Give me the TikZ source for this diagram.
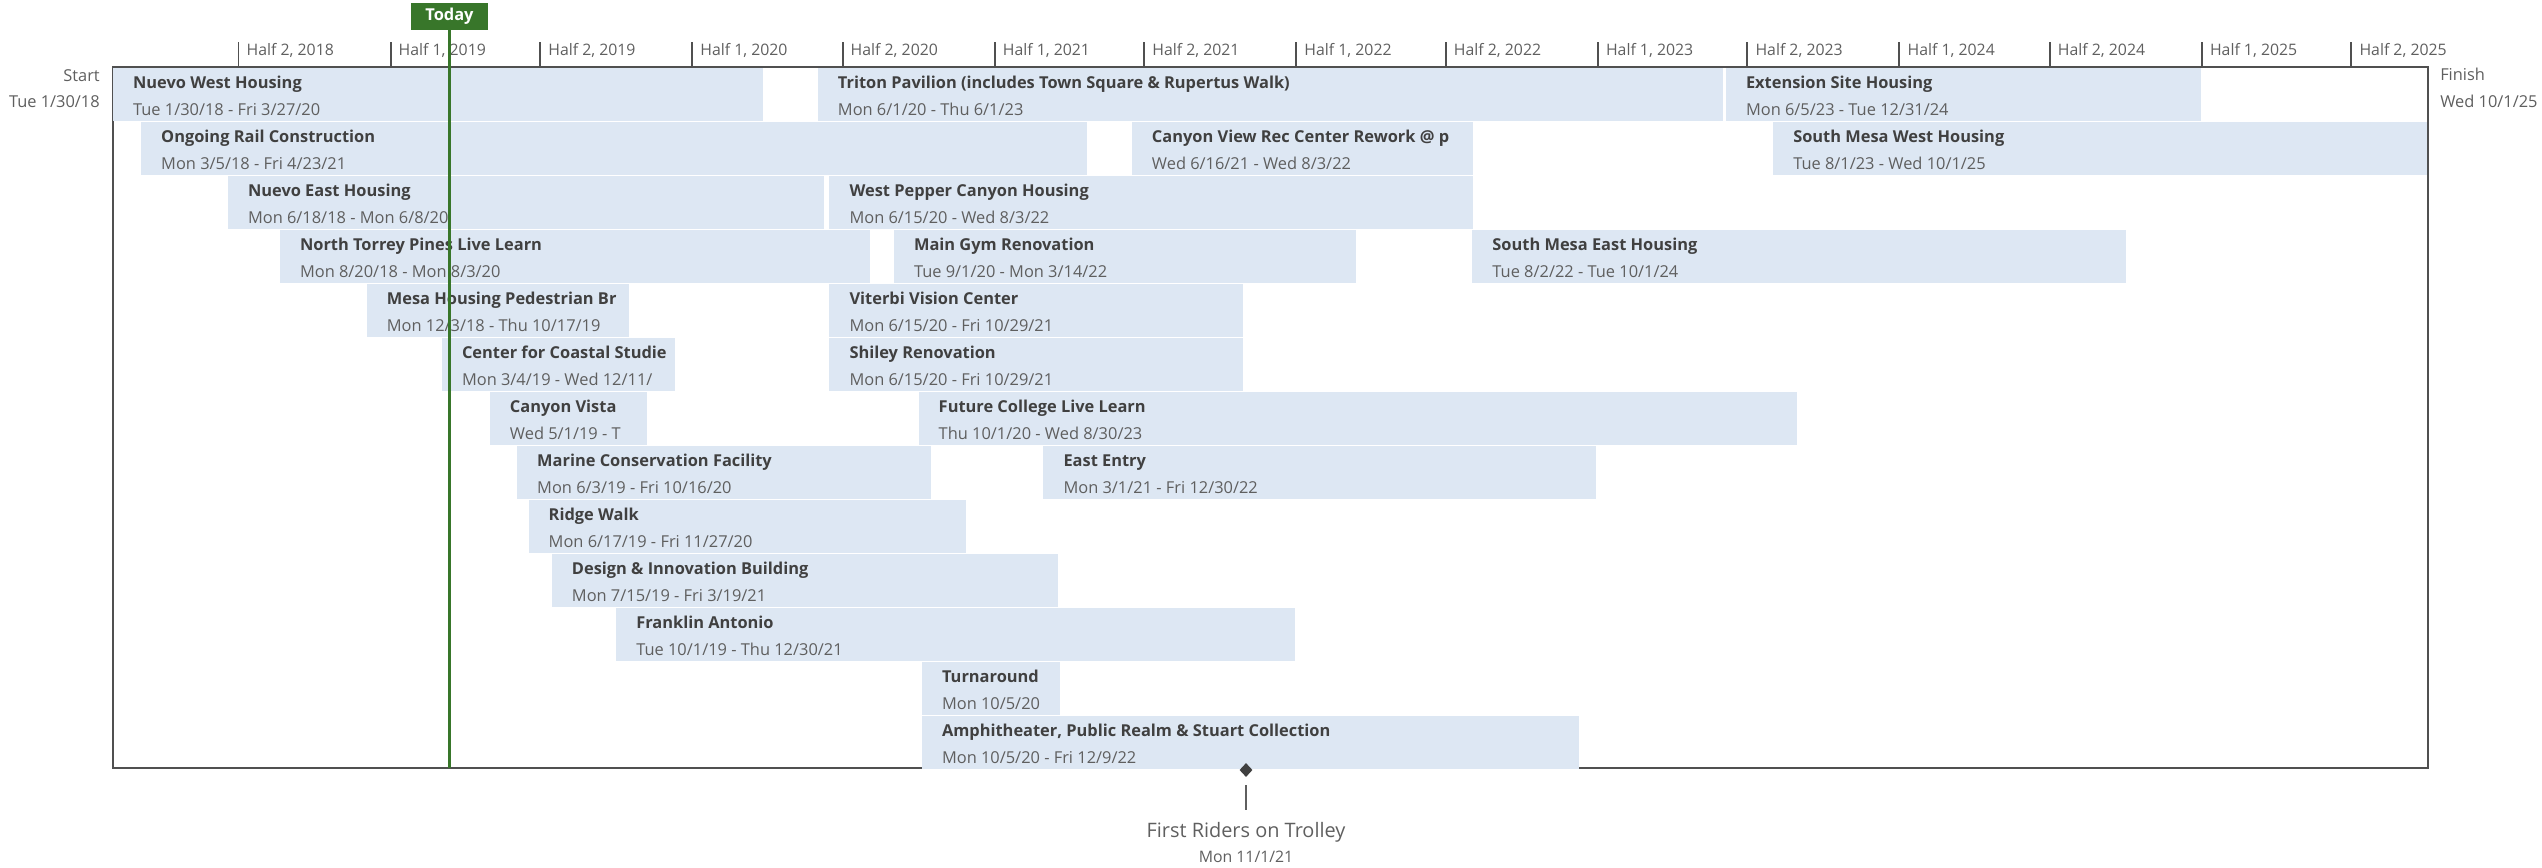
\documentclass[tikz,border=0pt]{standalone}
\usepackage{fontspec}
\setmainfont{Open Sans}
\usepackage{tikz}
\usetikzlibrary{shapes.geometric}

\definecolor{barblue}{RGB}{221,231,243}
\definecolor{framegray}{RGB}{80,80,80}
\definecolor{titlegray}{RGB}{64,64,64}
\definecolor{textgray}{RGB}{95,95,95}
\definecolor{todaygreen}{RGB}{56,118,42}

\begin{document}
\begin{tikzpicture}[x=0.03cm,y=-0.03cm,
                    barfill/.style={fill=barblue},
                    tasktitle/.style={anchor=base west,inner sep=0pt,text=titlegray,font=\fontsize{14}{16}\selectfont\bfseries},
                    taskdates/.style={anchor=base west,inner sep=0pt,text=textgray,font=\fontsize{14}{16}\selectfont},
                    halflabel/.style={anchor=base west,inner sep=0pt,text=textgray,font=\fontsize{13.5}{16}\selectfont},
                    tickmark/.style={draw=framegray,line width=1.7pt},
                    endlabel/.style={inner sep=0pt,text=textgray,font=\fontsize{14}{16}\selectfont},
                    todaybox/.style={fill=todaygreen,text=white,font=\fontsize{14}{16}\selectfont\bfseries,minimum width=2.3cm,minimum height=0.81cm,inner sep=0pt},
                    todayline/.style={draw=todaygreen,line width=2.6pt},
                    msdiamond/.style={diamond,fill=titlegray,inner sep=0pt,minimum width=0.39cm,minimum height=0.42cm},
                    msstem/.style={draw=textgray,line width=0.9pt}]
                    \useasboundingbox (0,0) rectangle (2542,868);

                    \draw[draw=framegray,line width=2.5pt] (113,67) rectangle (2428,768);

                    \foreach \x/\lbl [count=\i] in {238.5/{Half 2, 2018},390.5/{Half 1, 2019},540.1/{Half 2, 2019},692.1/{Half 1, 2020},
                                                   842.5/{Half 2, 2020},994.6/{Half 1, 2021},1144.1/{Half 2, 2021},1296.2/{Half 1, 2022},
                                                   1445.7/{Half 2, 2022},1597.8/{Half 1, 2023},1747.3/{Half 2, 2023},1899.4/{Half 1, 2024},
                                                   2049.7/{Half 2, 2024},2201.8/{Half 1, 2025},2351.3/{Half 2, 2025}}{
                        \draw[tickmark] (\x,42) -- (\x,67);
                        \node[halflabel] (h\i) at (\x+8,55) {\lbl};
                    }

                    \node[endlabel,anchor=base east] (start) at (100,81) {Start};
                    \node[endlabel,anchor=base east] (startdate) at (100,107) {Tue 1/30/18};
                    \node[endlabel,anchor=base west] (finish) at (2440,80) {Finish};
                    \node[endlabel,anchor=base west] (finishdate) at (2440,107) {Wed 10/1/25};

                    \foreach \id/\row/\xa/\xb/\ttl/\dts in {
                        nwh/0/112.9/763.2/{Nuevo West Housing}/{Tue 1/30/18 - Fri 3/27/20},
                        tp/0/817.7/1722.5/{Triton Pavilion (includes Town Square \& Rupertus Walk)}/{Mon 6/1/20 - Thu 6/1/23},
                        esh/0/1725.8/2201.0/{Extension Site Housing}/{Mon 6/5/23 - Tue 12/31/24},
                        orc/1/141.0/1087.1/{Ongoing Rail Construction}/{Mon 3/5/18 - Fri 4/23/21},
                        cvr/1/1131.7/1473.0/{Canyon View Rec Center Rework @ p}/{Wed 6/16/21 - Wed 8/3/22},
                        smw/1/1773.0/2427.4/{South Mesa West Housing}/{Tue 8/1/23 - Wed 10/1/25},
                        neh/2/227.8/823.5/{Nuevo East Housing}/{Mon 6/18/18 - Mon 6/8/20},
                        wpc/2/829.3/1473.0/{West Pepper Canyon Housing}/{Mon 6/15/20 - Wed 8/3/22},
                        ntp/3/279.8/869.8/{North Torrey Pines Live Learn}/{Mon 8/20/18 - Mon 8/3/20},
                        mgr/3/893.8/1355.7/{Main Gym Renovation}/{Tue 9/1/20 - Mon 3/14/22},
                        sme/3/1472.2/2125.8/{South Mesa East Housing}/{Tue 8/2/22 - Tue 10/1/24},
                        mhp/4/366.6/629.3/{Mesa Housing Pedestrian Br}/{Mon 12/3/18 - Thu 10/17/19},
                        vvc/4/829.3/1243.3/{Viterbi Vision Center}/{Mon 6/15/20 - Fri 10/29/21},
                        ccs/5/441.8/674.8/{Center for Coastal Studie}/{Mon 3/4/19 - Wed 12/11/},
                        shr/5/829.3/1243.3/{Shiley Renovation}/{Mon 6/15/20 - Fri 10/29/21},
                        cvi/6/489.7/646.7/{Canyon Vista}/{Wed 5/1/19 - T},
                        fcl/6/918.5/1796.9/{Future College Live Learn}/{Thu 10/1/20 - Wed 8/30/23},
                        mcf/7/517.0/930.9/{Marine Conservation Facility}/{Mon 6/3/19 - Fri 10/16/20},
                        een/7/1043.3/1596.1/{East Entry}/{Mon 3/1/21 - Fri 12/30/22},
                        rw/8/528.5/965.6/{Ridge Walk}/{Mon 6/17/19 - Fri 11/27/20},
                        dib/9/551.7/1058.2/{Design \& Innovation Building}/{Mon 7/15/19 - Fri 3/19/21},
                        fa/10/616.1/1294.5/{Franklin Antonio}/{Tue 10/1/19 - Thu 12/30/21},
                        tar/11/921.8/1060.0/{Turnaround}/{Mon 10/5/20},
                        amp/12/921.8/1578.8/{Amphitheater, Public Realm \& Stuart Collection}/{Mon 10/5/20 - Fri 12/9/22}}{
                        \fill[barfill] (\xa,{67+54*\row+1}) rectangle (\xb,{67+54*\row+54});
                        \node[tasktitle] (t\id) at ({\xa+20},{67+54*\row+21}) {\ttl};
                        \node[taskdates] (d\id) at ({\xa+20},{67+54*\row+48}) {\dts};
                    }

                    \node[todaybox] (today) at (449.5,16.5) {Today};
                    \coordinate (todayend) at (449.5,768);
                    \draw[todayline] (today.south) -- (todayend);

                    \node[msdiamond] (ms) at (1246,770) {};
                    \node[anchor=base,inner sep=0pt,text=textgray,font=\fontsize{17}{20}\selectfont] (mslabel) at (1246,837) {First Riders on Trolley};
                    \node[anchor=base,inner sep=0pt,text=textgray,font=\fontsize{13.5}{16}\selectfont] (msdate) at (1246,862) {Mon 11/1/21};
                    \draw[msstem,shorten <=0.24cm,shorten >=0.36cm] (ms) -- (mslabel);
\end{tikzpicture}
\end{document}
